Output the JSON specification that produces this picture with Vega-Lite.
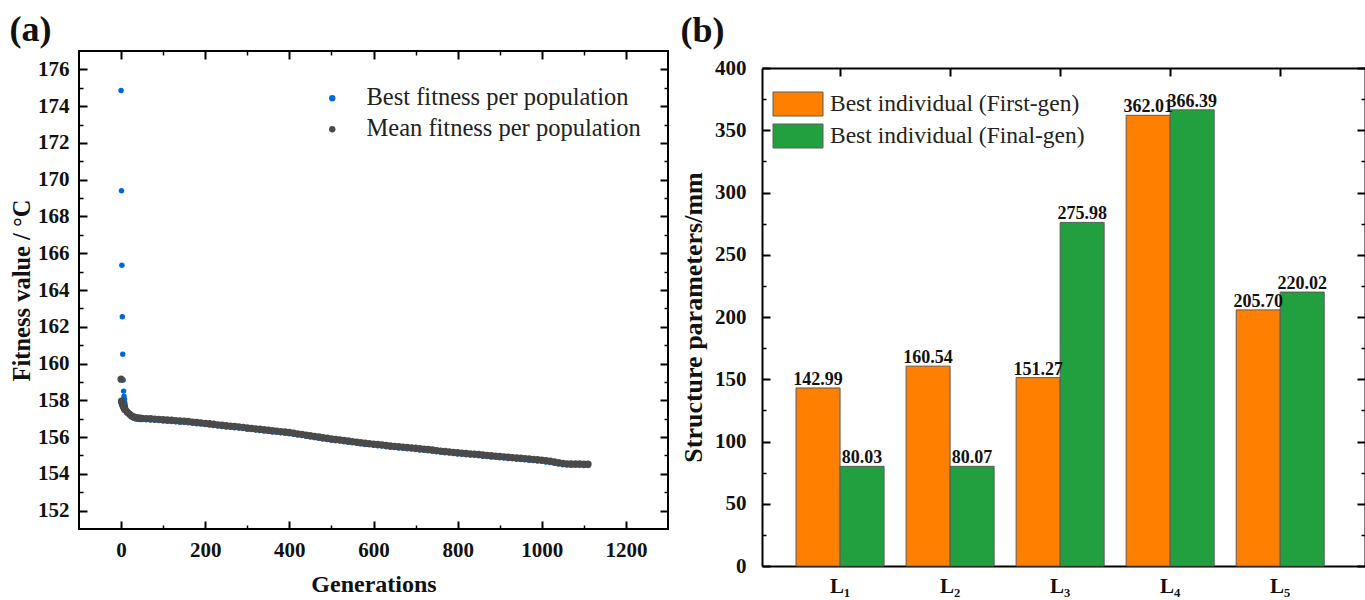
{
  "$schema": "https://vega.github.io/schema/vega-lite/v6.json",
  "background": "white",
  "padding": {"left": 8, "top": 11, "right": 0, "bottom": 0},
  "spacing": 10,
  "resolve": {"scale": {"color": "independent"}, "legend": {"color": "independent"}},
  "config": {
    "font": "Liberation Serif",
    "view": {"stroke": "#000", "strokeWidth": 2},
    "axis": {"domain": false, "grid": false, "labelFont": "Liberation Serif", "labelFontWeight": "bold", "labelColor": "#111", "labelFontSize": 21, "titleFont": "Liberation Serif", "titleFontWeight": "bold", "titleColor": "#111", "tickColor": "#000", "tickWidth": 2, "domainColor": "#000", "domainWidth": 2},
    "title": {"font": "Liberation Serif", "fontWeight": "bold", "color": "#111", "fontSize": 36},
    "legend": {"labelFont": "Liberation Serif", "labelColor": "#222", "labelFontWeight": "normal", "labelLimit": 500}
  },
  "datasets": {
    "fitness": [
      {"gen": 0, "best": 174.85, "mean": 159.15},
      {"gen": 1, "best": 169.40, "mean": 157.95},
      {"gen": 2, "best": 165.35, "mean": 157.88},
      {"gen": 3, "best": 162.55, "mean": 157.82},
      {"gen": 4, "best": 160.50, "mean": 157.76},
      {"gen": 5, "best": 159.10, "mean": 157.70},
      {"gen": 6, "best": 158.50, "mean": 157.65},
      {"gen": 7, "best": 158.22, "mean": 157.60},
      {"gen": 8, "best": 158.05, "mean": 157.55},
      {"gen": 9, "best": 157.85, "mean": 157.51},
      {"gen": 10, "best": 157.70, "mean": 157.48},
      {"gen": 15, "best": 157.40, "mean": 157.35},
      {"gen": 20, "best": 157.22, "mean": 157.25},
      {"gen": 25, "best": 157.10, "mean": 157.15},
      {"gen": 30, "best": 157.03, "mean": 157.10},
      {"gen": 35, "best": 156.99, "mean": 157.06},
      {"gen": 40, "best": 156.97, "mean": 157.04},
      {"gen": 45, "best": 156.96, "mean": 157.03},
      {"gen": 50, "best": 156.95, "mean": 157.02},
      {"gen": 60, "best": 156.94, "mean": 157.01},
      {"gen": 70, "best": 156.93, "mean": 157.00},
      {"gen": 80, "best": 156.91, "mean": 156.98},
      {"gen": 90, "best": 156.90, "mean": 156.97},
      {"gen": 100, "best": 156.88, "mean": 156.95},
      {"gen": 110, "best": 156.86, "mean": 156.93},
      {"gen": 120, "best": 156.85, "mean": 156.92},
      {"gen": 130, "best": 156.83, "mean": 156.90},
      {"gen": 140, "best": 156.81, "mean": 156.88},
      {"gen": 150, "best": 156.80, "mean": 156.87},
      {"gen": 160, "best": 156.78, "mean": 156.85},
      {"gen": 170, "best": 156.75, "mean": 156.82},
      {"gen": 180, "best": 156.73, "mean": 156.80},
      {"gen": 190, "best": 156.71, "mean": 156.78},
      {"gen": 200, "best": 156.68, "mean": 156.75},
      {"gen": 210, "best": 156.66, "mean": 156.73},
      {"gen": 220, "best": 156.63, "mean": 156.70},
      {"gen": 230, "best": 156.60, "mean": 156.67},
      {"gen": 240, "best": 156.58, "mean": 156.65},
      {"gen": 250, "best": 156.55, "mean": 156.62},
      {"gen": 260, "best": 156.53, "mean": 156.60},
      {"gen": 270, "best": 156.51, "mean": 156.58},
      {"gen": 280, "best": 156.49, "mean": 156.56},
      {"gen": 290, "best": 156.46, "mean": 156.53},
      {"gen": 300, "best": 156.43, "mean": 156.50},
      {"gen": 310, "best": 156.41, "mean": 156.48},
      {"gen": 320, "best": 156.38, "mean": 156.45},
      {"gen": 330, "best": 156.36, "mean": 156.43},
      {"gen": 340, "best": 156.33, "mean": 156.40},
      {"gen": 350, "best": 156.31, "mean": 156.38},
      {"gen": 360, "best": 156.28, "mean": 156.35},
      {"gen": 370, "best": 156.26, "mean": 156.33},
      {"gen": 380, "best": 156.23, "mean": 156.30},
      {"gen": 390, "best": 156.21, "mean": 156.28},
      {"gen": 400, "best": 156.18, "mean": 156.25},
      {"gen": 410, "best": 156.15, "mean": 156.22},
      {"gen": 420, "best": 156.11, "mean": 156.18},
      {"gen": 430, "best": 156.08, "mean": 156.15},
      {"gen": 440, "best": 156.04, "mean": 156.11},
      {"gen": 450, "best": 156.01, "mean": 156.08},
      {"gen": 460, "best": 155.97, "mean": 156.04},
      {"gen": 470, "best": 155.94, "mean": 156.01},
      {"gen": 480, "best": 155.90, "mean": 155.97},
      {"gen": 490, "best": 155.87, "mean": 155.94},
      {"gen": 500, "best": 155.83, "mean": 155.90},
      {"gen": 510, "best": 155.80, "mean": 155.87},
      {"gen": 520, "best": 155.78, "mean": 155.85},
      {"gen": 530, "best": 155.75, "mean": 155.82},
      {"gen": 540, "best": 155.72, "mean": 155.79},
      {"gen": 550, "best": 155.69, "mean": 155.76},
      {"gen": 560, "best": 155.66, "mean": 155.73},
      {"gen": 570, "best": 155.63, "mean": 155.70},
      {"gen": 580, "best": 155.60, "mean": 155.67},
      {"gen": 590, "best": 155.58, "mean": 155.65},
      {"gen": 600, "best": 155.55, "mean": 155.62},
      {"gen": 610, "best": 155.53, "mean": 155.60},
      {"gen": 620, "best": 155.51, "mean": 155.58},
      {"gen": 630, "best": 155.48, "mean": 155.55},
      {"gen": 640, "best": 155.45, "mean": 155.52},
      {"gen": 650, "best": 155.43, "mean": 155.50},
      {"gen": 660, "best": 155.41, "mean": 155.48},
      {"gen": 670, "best": 155.39, "mean": 155.46},
      {"gen": 680, "best": 155.37, "mean": 155.44},
      {"gen": 690, "best": 155.35, "mean": 155.42},
      {"gen": 700, "best": 155.33, "mean": 155.40},
      {"gen": 710, "best": 155.30, "mean": 155.37},
      {"gen": 720, "best": 155.28, "mean": 155.35},
      {"gen": 730, "best": 155.26, "mean": 155.33},
      {"gen": 740, "best": 155.23, "mean": 155.30},
      {"gen": 750, "best": 155.20, "mean": 155.27},
      {"gen": 760, "best": 155.17, "mean": 155.24},
      {"gen": 770, "best": 155.15, "mean": 155.22},
      {"gen": 780, "best": 155.13, "mean": 155.20},
      {"gen": 790, "best": 155.10, "mean": 155.17},
      {"gen": 800, "best": 155.08, "mean": 155.15},
      {"gen": 810, "best": 155.06, "mean": 155.13},
      {"gen": 820, "best": 155.04, "mean": 155.11},
      {"gen": 830, "best": 155.02, "mean": 155.09},
      {"gen": 840, "best": 155.01, "mean": 155.08},
      {"gen": 850, "best": 154.99, "mean": 155.06},
      {"gen": 860, "best": 154.96, "mean": 155.03},
      {"gen": 870, "best": 154.94, "mean": 155.01},
      {"gen": 880, "best": 154.92, "mean": 154.99},
      {"gen": 890, "best": 154.90, "mean": 154.97},
      {"gen": 900, "best": 154.88, "mean": 154.95},
      {"gen": 910, "best": 154.86, "mean": 154.93},
      {"gen": 920, "best": 154.84, "mean": 154.91},
      {"gen": 930, "best": 154.82, "mean": 154.89},
      {"gen": 940, "best": 154.80, "mean": 154.87},
      {"gen": 950, "best": 154.78, "mean": 154.85},
      {"gen": 960, "best": 154.76, "mean": 154.83},
      {"gen": 970, "best": 154.74, "mean": 154.81},
      {"gen": 980, "best": 154.72, "mean": 154.79},
      {"gen": 990, "best": 154.70, "mean": 154.77},
      {"gen": 1000, "best": 154.68, "mean": 154.75},
      {"gen": 1010, "best": 154.65, "mean": 154.72},
      {"gen": 1020, "best": 154.62, "mean": 154.69},
      {"gen": 1030, "best": 154.58, "mean": 154.65},
      {"gen": 1040, "best": 154.54, "mean": 154.61},
      {"gen": 1050, "best": 154.50, "mean": 154.57},
      {"gen": 1060, "best": 154.48, "mean": 154.55},
      {"gen": 1070, "best": 154.47, "mean": 154.54},
      {"gen": 1080, "best": 154.47, "mean": 154.54},
      {"gen": 1090, "best": 154.47, "mean": 154.54},
      {"gen": 1100, "best": 154.46, "mean": 154.53},
      {"gen": 1110, "best": 154.46, "mean": 154.53}
    ],
    "params": [
      {"param": "L₁", "series": "Best individual (First-gen)", "value": 142.99},
      {"param": "L₁", "series": "Best individual (Final-gen)", "value": 80.03},
      {"param": "L₂", "series": "Best individual (First-gen)", "value": 160.54},
      {"param": "L₂", "series": "Best individual (Final-gen)", "value": 80.07},
      {"param": "L₃", "series": "Best individual (First-gen)", "value": 151.27},
      {"param": "L₃", "series": "Best individual (Final-gen)", "value": 275.98},
      {"param": "L₄", "series": "Best individual (First-gen)", "value": 362.01},
      {"param": "L₄", "series": "Best individual (Final-gen)", "value": 366.39},
      {"param": "L₅", "series": "Best individual (First-gen)", "value": 205.70},
      {"param": "L₅", "series": "Best individual (Final-gen)", "value": 220.02}
    ]
  },
  "hconcat": [
    {
      "width": 589,
      "height": 478,
      "title": {"text": "(a)", "anchor": "start", "frame": "bounds", "offset": 1},
      "data": {"name": "fitness"},
      "resolve": {"axis": {"x": "independent", "y": "independent"}},
      "layer": [
        {
          "mark": {"type": "circle", "size": 30, "opacity": 1},
          "encoding": {
            "x": {"field": "gen", "type": "quantitative", "scale": {"domain": [-100, 1300], "nice": false, "zero": false},
                  "axis": {"orient": "bottom", "values": [0, 200, 400, 600, 800, 1000, 1200], "format": "d", "title": "Generations", "tickSize": -8, "labelPadding": 18, "titlePadding": 12, "titleFontSize": 24}},
            "y": {"field": "best", "type": "quantitative", "scale": {"domain": [151, 177], "nice": false, "zero": false},
                  "axis": {"orient": "left", "values": [152, 154, 156, 158, 160, 162, 164, 166, 168, 170, 172, 174, 176], "title": "Fitness value / °C", "tickSize": -8, "labelPadding": 18, "titlePadding": 3, "titleFontSize": 24.5}},
            "color": {"datum": "Best fitness per population", "type": "nominal",
                      "scale": {"domain": ["Best fitness per population", "Mean fitness per population"], "range": ["#0066dd", "#4a4a4a"]},
                      "legend": {"orient": "none", "legendX": 241, "legendY": 35, "title": null, "symbolType": "circle", "symbolSize": 40, "symbolOpacity": 1, "labelFontSize": 24.5, "labelOffset": 22, "rowPadding": 6, "padding": 0}}
          }
        },
        {
          "mark": {"type": "circle", "size": 52, "opacity": 1},
          "encoding": {
            "x": {"field": "gen", "type": "quantitative", "scale": {"domain": [-100, 1300], "nice": false, "zero": false},
                  "axis": {"orient": "bottom", "values": [100, 300, 500, 700, 900, 1100], "labels": false, "title": null, "tickSize": -4, "tickWidth": 1.5}},
            "y": {"field": "mean", "type": "quantitative", "scale": {"domain": [151, 177], "nice": false, "zero": false},
                  "axis": {"orient": "left", "values": [153, 155, 157, 159, 161, 163, 165, 167, 169, 171, 173, 175], "labels": false, "title": null, "tickSize": -4, "tickWidth": 1.5}},
            "color": {"datum": "Mean fitness per population", "type": "nominal"}
          }
        },
        {
          "mark": {"type": "circle", "opacity": 0},
          "encoding": {
            "x": {"field": "gen", "type": "quantitative", "scale": {"domain": [-100, 1300], "nice": false, "zero": false},
                  "axis": {"orient": "top", "values": [0, 200, 400, 600, 800, 1000, 1200], "labels": false, "title": null, "tickSize": -8}},
            "y": {"field": "mean", "type": "quantitative", "scale": {"domain": [151, 177], "nice": false, "zero": false},
                  "axis": {"orient": "right", "values": [152, 154, 156, 158, 160, 162, 164, 166, 168, 170, 172, 174, 176], "labels": false, "title": null, "tickSize": -8}}
          }
        },
        {
          "mark": {"type": "circle", "opacity": 0},
          "encoding": {
            "x": {"field": "gen", "type": "quantitative", "scale": {"domain": [-100, 1300], "nice": false, "zero": false},
                  "axis": {"orient": "top", "values": [100, 300, 500, 700, 900, 1100], "labels": false, "title": null, "tickSize": -4, "tickWidth": 1.5}},
            "y": {"field": "mean", "type": "quantitative", "scale": {"domain": [151, 177], "nice": false, "zero": false},
                  "axis": {"orient": "right", "values": [153, 155, 157, 159, 161, 163, 165, 167, 169, 171, 173, 175], "labels": false, "title": null, "tickSize": -4, "tickWidth": 1.5}}
          }
        }
      ]
    },
    {
      "width": 603,
      "height": 515,
      "view": {"stroke": null},
      "title": {"text": "(b)", "anchor": "start", "frame": "bounds", "offset": 1},
      "data": {"name": "params"},
      "resolve": {"axis": {"x": "independent", "y": "independent"}},
      "layer": [
        {
          "mark": {"type": "bar", "stroke": "#5a5a5a", "strokeWidth": 1},
          "encoding": {
            "x": {"field": "param", "type": "nominal", "sort": null, "scale": {"paddingInner": 0.2, "paddingOuter": 0.34, "align": 0.455},
                  "axis": {"orient": "bottom", "title": null, "labelAngle": 0, "tickSize": -8, "labelPadding": 17, "labelFontSize": 21, "domain": true}},
            "xOffset": {"field": "series", "type": "nominal", "sort": ["Best individual (First-gen)", "Best individual (Final-gen)"], "scale": {"paddingInner": 0, "paddingOuter": 0}},
            "y": {"field": "value", "type": "quantitative", "scale": {"domain": [0, 400], "nice": false, "range": [515, 17]},
                  "axis": {"orient": "left", "values": [0, 50, 100, 150, 200, 250, 300, 350, 400], "title": "Structure parameters/mm", "tickSize": -8, "labelPadding": 24, "titlePadding": 8, "titleFontSize": 26, "domain": true}},
            "color": {"field": "series", "type": "nominal", "sort": ["Best individual (First-gen)", "Best individual (Final-gen)"],
                      "scale": {"domain": ["Best individual (First-gen)", "Best individual (Final-gen)"], "range": ["#ff8000", "#22a03f"]},
                      "legend": {"orient": "none", "legendX": 23, "legendY": 40, "title": null, "symbolType": "M-2,-0.96H2V0.96H-2Z", "symbolSize": 625, "symbolStrokeColor": "#5a5a5a", "symbolStrokeWidth": 1, "labelFontSize": 23.5, "labelOffset": 19, "rowPadding": 4, "padding": 0}}
          }
        },
        {
          "mark": {"type": "text", "baseline": "alphabetic", "dy": -3, "fontSize": 18, "fontWeight": "bold", "font": "Liberation Serif", "color": "#111"},
          "encoding": {
            "x": {"field": "param", "type": "nominal", "sort": null, "scale": {"paddingInner": 0.2, "paddingOuter": 0.34, "align": 0.455},
                  "axis": {"orient": "top", "labels": false, "title": null, "tickSize": -8, "offset": -17, "domain": true}},
            "xOffset": {"field": "series", "type": "nominal", "sort": ["Best individual (First-gen)", "Best individual (Final-gen)"]},
            "y": {"field": "value", "type": "quantitative", "scale": {"domain": [0, 400], "nice": false, "range": [515, 17]},
                  "axis": {"orient": "left", "values": [25, 75, 125, 175, 225, 275, 325, 375], "labels": false, "title": null, "tickSize": -4, "tickWidth": 1.5}},
            "text": {"field": "value", "type": "quantitative", "format": ".2f"}
          }
        },
        {
          "mark": {"type": "point", "opacity": 0},
          "encoding": {
            "x": {"field": "param", "type": "nominal", "sort": null, "axis": null},
            "xOffset": {"field": "series", "type": "nominal", "sort": ["Best individual (First-gen)", "Best individual (Final-gen)"]},
            "y": {"field": "value", "type": "quantitative", "scale": {"domain": [0, 400], "nice": false, "range": [515, 17]},
                  "axis": {"orient": "right", "values": [0, 50, 100, 150, 200, 250, 300, 350, 400], "labels": false, "title": null, "tickSize": -8, "domain": true}}
          }
        },
        {
          "mark": {"type": "point", "opacity": 0},
          "encoding": {
            "x": {"field": "param", "type": "nominal", "sort": null, "axis": null},
            "xOffset": {"field": "series", "type": "nominal", "sort": ["Best individual (First-gen)", "Best individual (Final-gen)"]},
            "y": {"field": "value", "type": "quantitative", "scale": {"domain": [0, 400], "nice": false, "range": [515, 17]},
                  "axis": {"orient": "right", "values": [25, 75, 125, 175, 225, 275, 325, 375], "labels": false, "title": null, "tickSize": -4, "tickWidth": 1.5}}
          }
        }
      ]
    }
  ]
}
